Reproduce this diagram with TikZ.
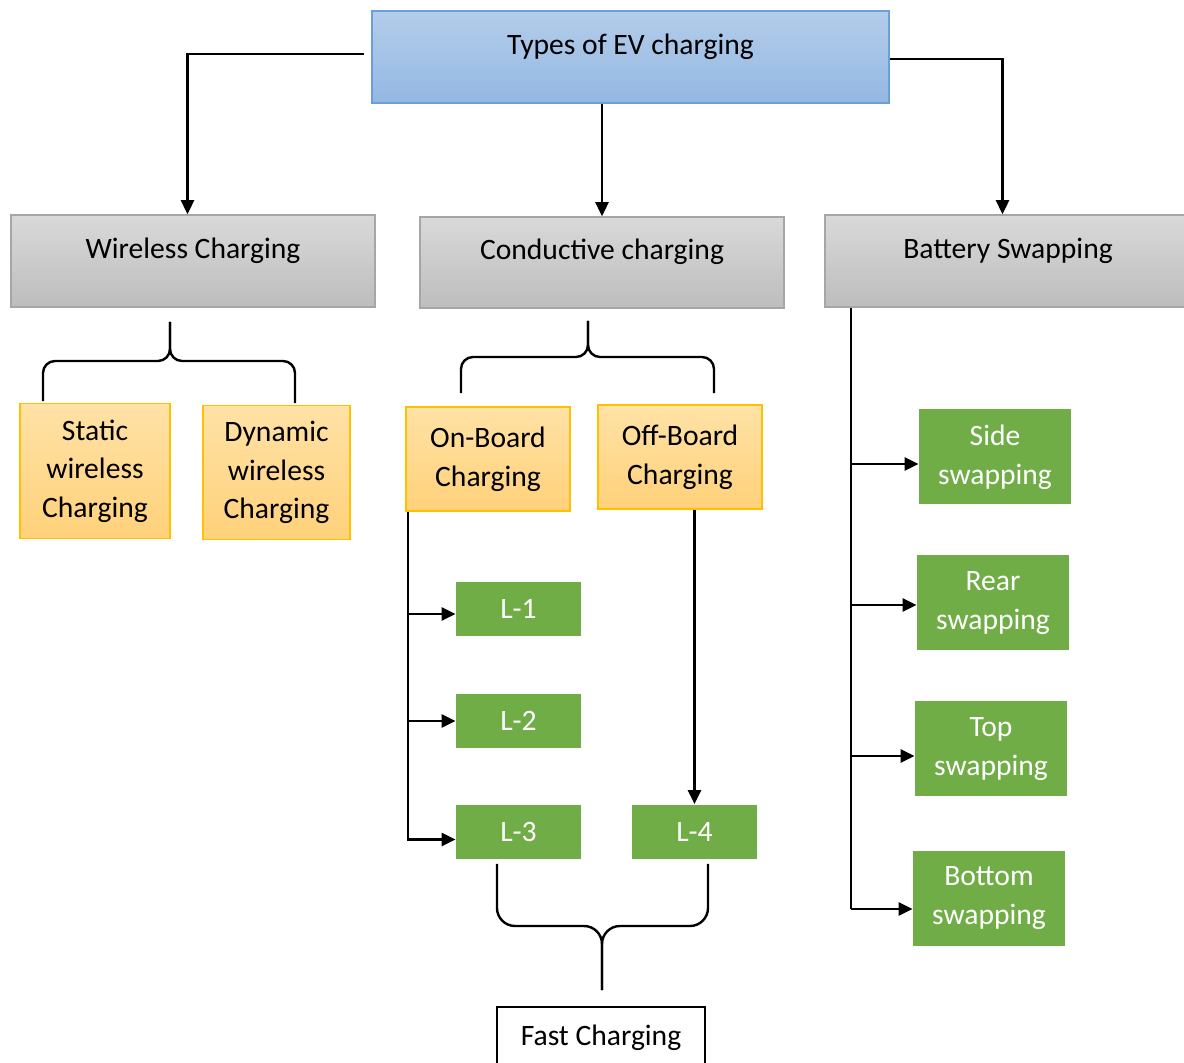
\documentclass[tikz,border=0pt]{standalone}
\usepackage{fontspec}
\setmainfont{Carlito}
\usetikzlibrary{arrows.meta}

\definecolor{headtop}{HTML}{B3CDEA}
\definecolor{headbot}{HTML}{94B8E3}
\definecolor{headline}{HTML}{6A9FD8}
\definecolor{cattop}{HTML}{D9D9D9}
\definecolor{catbot}{HTML}{BDBDBD}
\definecolor{catline}{HTML}{A6A6A6}
\definecolor{subtop}{HTML}{FFE2A6}
\definecolor{subbot}{HTML}{FFD17A}
\definecolor{subline}{HTML}{FFC000}
\definecolor{leaf}{HTML}{70AD47}

\begin{document}
\begin{tikzpicture}[x=0.5pt,y=-0.5pt,>={Triangle[length=7pt,width=6.5pt]},
  every node/.style={font=\fontsize{14.8}{19.3}\selectfont,align=center,inner sep=0pt},
  sz/.style 2 args={minimum width=#1*0.5pt,minimum height=#2*0.5pt},
  raised/.style={text height=10.5pt,text depth=13pt},
  headbox/.style={draw=headline,line width=0.75pt,top color=headtop,bottom color=headbot,raised},
  catbox/.style={draw=catline,line width=0.75pt,top color=cattop,bottom color=catbot,raised},
  subbox/.style={draw=subline,line width=0.75pt,top color=subtop,bottom color=subbot},
  leafbox/.style={fill=leaf,text=white},
  endbox/.style={draw,line width=0.75pt,fill=white},
  link/.style={line width=1.2pt},
  brace/.style={line width=1.2pt,rounded corners=6pt}]
  \useasboundingbox (0,0) rectangle (1184,1063);

  % top level
  \node (top) at (630.5,57) [headbox,sz={517}{92}]{Types of EV charging};
  \node (wireless) at (193,261) [catbox,sz={364}{92}]{Wireless Charging};
  \node (conductive) at (602,262.5) [catbox,sz={364}{91}]{Conductive charging};
  \node (battery) at (1008,261) [catbox,sz={366}{92}]{Battery Swapping};

  \draw[link,->] ([xshift=-3.5pt,yshift=1.5pt]top.west) -| ([xshift=-2.75pt]wireless.north);
  \draw[link,->] (top.south -| conductive.north) -- (conductive.north);
  \draw[link,->] ([yshift=-1pt]top.east) -| ([xshift=-2.75pt]battery.north);

  % wireless
  \node (static) at (95,471) [subbox,sz={150}{135}]{Static\\wireless\\Charging};
  \node (dynamic) at (276.5,472.5) [subbox,sz={147}{134}]{Dynamic\\wireless\\Charging};
  \coordinate (wtip) at (170,322);
  \coordinate (wmid) at (170,361);
  \draw[brace] ([xshift=-26pt,yshift=0.75pt]static.north) |- (wmid) -- (wtip);
  \draw[brace] ([xshift=9.25pt,yshift=0.75pt]dynamic.north) |- (wmid) -- (wtip);

  % conductive
  \node (onboard) at (488,459) [subbox,sz={164}{104}]{On-Board\\Charging};
  \node (offboard) at (680,457) [subbox,sz={164}{104}]{Off-Board\\Charging};
  \coordinate (ctip) at (588,321);
  \coordinate (cmid) at (588,357);
  \draw[brace] ([xshift=-13.5pt,yshift=6.5pt]onboard.north) |- (cmid) -- (ctip);
  \draw[brace] ([xshift=17pt,yshift=5.5pt]offboard.north) |- (cmid) -- (ctip);

  \node (l1) at (518.5,609) [leafbox,sz={125}{54}]{L-1};
  \node (l2) at (518.5,721) [leafbox,sz={125}{54}]{L-2};
  \node (l3) at (518.5,831.5) [leafbox,sz={125}{54}]{L-3};
  \node (l4) at (694.5,831.5) [leafbox,sz={125}{54}]{L-4};

  \coordinate (ob) at ([xshift=1.5pt]onboard.south west);
  \coordinate (p1) at ([yshift=-2.5pt]l1.west);
  \draw[link,->] (ob) |- ([yshift=-4pt]l3.west);
  \draw[link,->] (ob |- p1) -- (p1);
  \draw[link,->] (ob |- l2.west) -- (l2.west);
  \draw[link,->] (offboard.south -| l4.north) -- (l4.north);

  % fast charging
  \node (fast) at (601,1038) [endbox,sz={208}{62}]{Fast Charging};
  \coordinate (ftip) at (602,990);
  \coordinate (fmid) at (602,926);
  \draw[brace,rounded corners=9pt] ([xshift=-10.75pt,yshift=-2.5pt]l3.south) |- (fmid) -- (ftip);
  \draw[brace,rounded corners=9pt] ([xshift=6.75pt,yshift=-2.5pt]l4.south) |- (fmid) -- (ftip);

  % battery swapping
  \node (side) at (995,457) [leafbox,sz={152}{95}]{Side\\swapping};
  \node (rear) at (993,603) [leafbox,sz={152}{95}]{Rear\\swapping};
  \node (topsw) at (991,749) [leafbox,sz={152}{95}]{Top\\swapping};
  \node (bottom) at (989,898) [leafbox,sz={152}{95}]{Bottom\\swapping};

  \coordinate (bs) at ([xshift=13.5pt]battery.south west);
  \coordinate (pb) at ([yshift=-5.5pt]bottom.west);
  \draw[link] (bs) -- (bs |- pb);
  \foreach \n/\d in {side/-3.5pt,rear/-1pt,topsw/-3.5pt,bottom/-5.5pt}{
    \coordinate (p) at ([yshift=\d]\n.west);
    \draw[link,->] (bs |- p) -- (p);
  }
\end{tikzpicture}
\end{document}
